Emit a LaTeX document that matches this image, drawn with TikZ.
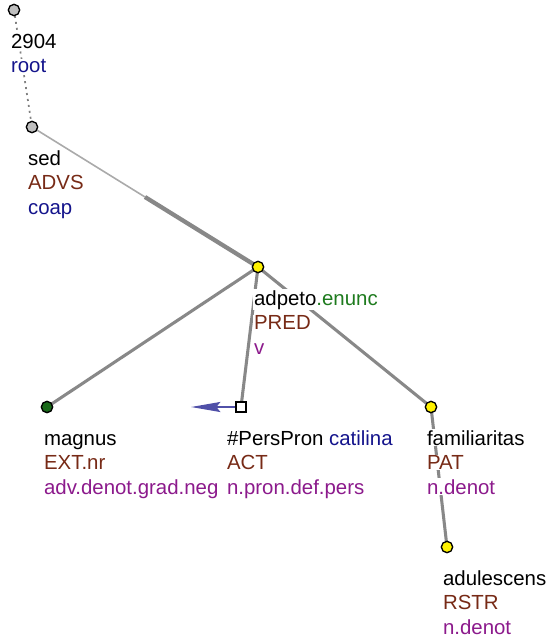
\documentclass[tikz,border=0pt]{standalone}
\usepackage{fontspec}
\setmainfont{Liberation Sans}
\usetikzlibrary{arrows.meta,calc}
\definecolor{tbrown}{HTML}{772A16}
\definecolor{tnavy}{HTML}{14148C}
\definecolor{tgreen}{HTML}{1E7B1E}
\definecolor{tpurple}{HTML}{8C1A8C}
\definecolor{tedge}{HTML}{888888}
\definecolor{tlight}{HTML}{AAAAAA}
\definecolor{tarrow}{HTML}{5050A8}
\pgfdeclarelayer{background}
\pgfsetlayers{background,main}
\tikzset{
  dot/.style={circle, draw=black, line width=1pt, inner sep=0pt, minimum size=8.5pt},
  graydot/.style={dot, fill=gray!50},
  yellowdot/.style={dot, fill=yellow},
  greendot/.style={dot, fill=tgreen!85!black},
  sqnode/.style={rectangle, draw=black, fill=white, line width=1.1pt, inner sep=0pt, minimum size=7.5pt},
  lbl/.style={anchor=base west, fill=white, inner sep=0.6pt, font=\fontsize{15.3}{18}\selectfont},
  edge/.style={draw=tedge, line width=2.3pt},
  thinedge/.style={draw=tlight, line width=1.2pt},
  thickedge/.style={draw=tedge, line width=3.2pt},
  dotedge/.style={draw=gray, line width=1.3pt, dash pattern=on 1.5pt off 3pt},
  corefarrow/.style={draw=tarrow, line width=1.6pt, -{Stealth[length=22pt, width=7.5pt, inset=3pt]}}
}
\begin{document}
\begin{tikzpicture}[x=0.75pt, y=-0.75pt]
\useasboundingbox (0,0) rectangle (547,639);
% nodes
\node[graydot] (root) at (14,10) {};
\node[graydot] (sed) at (32,127) {};
\node[yellowdot] (adpeto) at (258,267) {};
\node[greendot] (magnus) at (47,407) {};
\node[sqnode] (pers) at (241,407) {};
\node[yellowdot] (famil) at (431,407) {};
\node[yellowdot] (adul) at (447,547) {};
\coordinate (arrowend) at (191,407);
% edges
\begin{pgfonlayer}{background}
\draw[dotedge] (root.center) -- (sed.center);
\coordinate (sedmid) at ($(sed.center)!0.5!(adpeto.center)$);
\draw[thinedge] (sed.center) -- (sedmid);
\draw[thickedge] (sedmid) -- (adpeto.center);
\draw[edge] (adpeto.center) -- (magnus.center);
\draw[edge] (adpeto.center) -- (pers.center);
\draw[edge] (adpeto.center) -- (famil.center);
\draw[edge] (famil.center) -- (adul.center);
\end{pgfonlayer}
\draw[corefarrow] (pers.west) -- (arrowend);
% labels
\node[lbl] (rootA) at (10,48) {2904};
\node[lbl] (rootB) at (10,72.5) {\textcolor{tnavy}{root}};
\node[lbl] (sedA) at (27,165) {sed};
\node[lbl] (sedB) at (27,189.5) {\textcolor{tbrown}{ADVS}};
\node[lbl] (sedC) at (27,214) {\textcolor{tnavy}{coap}};
\node[lbl] (adpA) at (253,305) {adpeto\textcolor{tgreen}{.enunc}};
\node[lbl] (adpB) at (253,329.5) {\textcolor{tbrown}{PRED}};
\node[lbl] (adpC) at (253,354) {\textcolor{tpurple}{v}};
\node[lbl] (magA) at (43,445) {magnus};
\node[lbl] (magB) at (43,469.5) {\textcolor{tbrown}{EXT.nr}};
\node[lbl] (magC) at (43,494) {\textcolor{tpurple}{adv.denot.grad.neg}};
\node[lbl] (persA) at (226,445) {\#PersPron \textcolor{tnavy}{catilina}};
\node[lbl] (persB) at (226,469.5) {\textcolor{tbrown}{ACT}};
\node[lbl] (persC) at (226,494) {\textcolor{tpurple}{n.pron.def.pers}};
\node[lbl] (famA) at (426,445) {familiaritas};
\node[lbl] (famB) at (426,469.5) {\textcolor{tbrown}{PAT}};
\node[lbl] (famC) at (426,494) {\textcolor{tpurple}{n.denot}};
\node[lbl] (adulA) at (442,585) {adulescens};
\node[lbl] (adulB) at (442,609.5) {\textcolor{tbrown}{RSTR}};
\node[lbl] (adulC) at (442,634) {\textcolor{tpurple}{n.denot}};
\end{tikzpicture}
\end{document}
